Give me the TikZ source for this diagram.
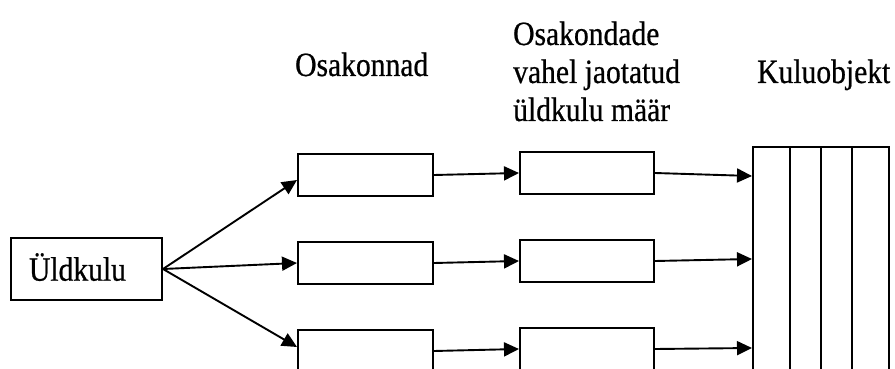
\documentclass[tikz,border=0pt]{standalone}
\usepackage{fontspec}
\setmainfont{Liberation Serif}[FakeStretch=0.87,FakeBold=0.6]
\usetikzlibrary{arrows.meta,calc}
\begin{document}
\begin{tikzpicture}[x=1pt,y=-1pt,
  every node/.style={font=\fontsize{34}{38}\selectfont},
  box/.style={draw,line width=2pt,rectangle,inner sep=0pt},
  unit/.style={box,minimum width=135pt,minimum height=42pt},
  flow/.style={line width=1.9pt,-{Triangle[length=15pt,width=14pt]}},
  caption/.style={inner sep=0pt,anchor=base west}]
\useasboundingbox (0,0) rectangle (895,369);
\clip (0,0) rectangle (895,369);

% source box
\node[box,minimum width=151pt,minimum height=62pt,text width=115pt,
      align=left,inner xsep=18pt,text height=23.4pt,text depth=0pt]
      (u) at (86.5,269) {Üldkulu};

% departments
\node[unit] (o1) at (365.5,175) {};
\node[unit] (o2) at (365.5,263) {};
\node[unit] (o3) at (365.5,351) {};

% allocated overhead rates
\node[unit,minimum width=134pt] (m1) at (587,173) {};
\node[unit,minimum width=134pt] (m2) at (587,261) {};
\node[unit,minimum width=134pt] (m3) at (587,349) {};

% cost objects
\node[box,minimum width=136pt,minimum height=253pt] (obj) at (821,273.5) {};
\foreach \x in {790,821,852}
  \draw[line width=2pt] (obj.north -| \x,0) -- (obj.south -| \x,0);

% headings (the three-line one is placed by its last baseline)
\node[caption] (h1) at (295,76) {Osakonnad};
\node[caption,align=left] (h2) at (513,121) {Osakondade\\vahel jaotatud\\üldkulu määr};
\node[caption] (h3) at (757,83) {Kuluobjekt};

% connectors
\draw[flow] (u.east) -- ($(o1.west)+(0,5)$);
\draw[flow] (u.east) -- (o2.west);
\draw[flow] (u.east) -- ($(o3.west)+(0,-4)$);
\draw[flow] (o1.east) -- (m1.west);
\draw[flow] (o2.east) -- (m2.west);
\draw[flow] (o3.east) -- (m3.west);
\draw[flow] (m1.east) -- ($(obj.west |- m1.east)+(0,3)$);
\draw[flow] (m2.east) -- ($(obj.west |- m2.east)+(0,-2)$);
\draw[flow] (m3.east) -- ($(obj.west |- m3.east)+(0,-1)$);
\end{tikzpicture}
\end{document}
